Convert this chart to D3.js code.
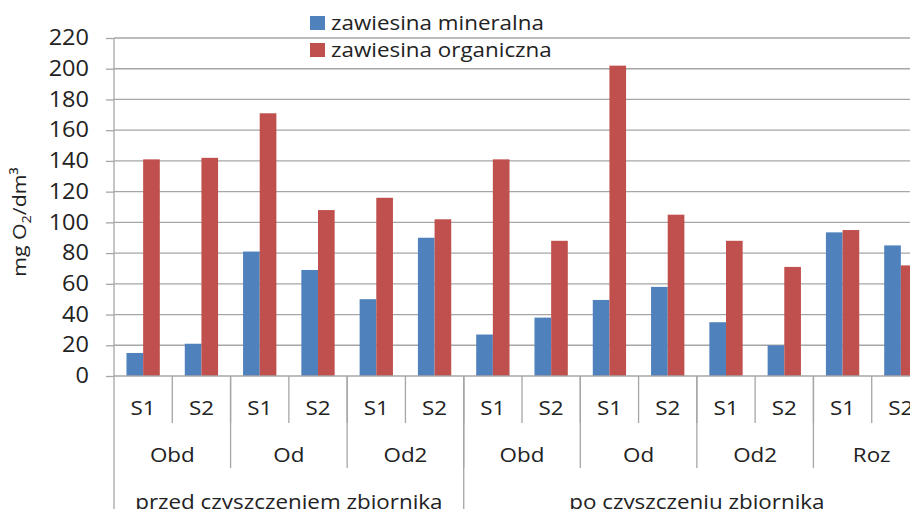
<!DOCTYPE html>
<html>
<head>
<meta charset="utf-8">
<script src="https://cdn.jsdelivr.net/npm/d3@7/dist/d3.min.js"></script>
<style>
  html, body { margin: 0; padding: 0; background: #fff; }
  svg { display: block; }
  text { font-family: "Open Sans", Lato, sans-serif; fill: #222; }
</style>
</head>
<body>
<svg id="chart" width="910" height="509"></svg>
<script>
// Sampling points, two per site, in order along the x axis
const samples = ["S1","S2","S1","S2","S1","S2","S1","S2","S1","S2","S1","S2","S1","S2"];
// Sites, each spanning two samples
const sites = ["Obd","Od","Od2","Obd","Od","Od2","Roz"];
// Campaign phases with the number of samples they span
const phases = ["przed czyszczeniem zbiornika", "po czyszczeniu zbiornika"];
const phaseSpans = [6, 8];

// Suspended solids, mg O2/dm3
const mineral  = [15, 21, 81, 69, 50, 90, 27, 38, 49.5, 58, 35, 20, 93.5, 85];
const organic  = [141, 142, 171, 108, 116, 102, 141, 88, 202, 105, 88, 71, 95, 72];

const seriesNames  = ["zawiesina mineralna", "zawiesina organiczna"];
const seriesColors = ["#4f81bd", "#c0504d"];
const yTicks = [0, 20, 40, 60, 80, 100, 120, 140, 160, 180, 200, 220];

const svg = d3.select("#chart");
const plotLeft = 114, plotRight = 930, plotTop = 38, plotBottom = 376;
const wide = 1.12; // glyphs are set slightly wide

// place a text at (px, py), widened along its baseline
function placeText(sel, px, py) {
  return sel.attr("x", 0).attr("y", 0)
    .attr("transform", `translate(${px},${py}) scale(${wide},1)`);
}

const x = d3.scaleBand().domain(d3.range(samples.length)).range([plotLeft, plotRight]).padding(0);
const inner = d3.scaleBand().domain([0, 1]).range([0, x.bandwidth()]).paddingInner(0).paddingOuter(0.75);
const y = d3.scaleLinear().domain([0, 220]).range([plotBottom, plotTop]);

const gridColor = "#a6a6a6";

// horizontal gridlines
svg.append("g").selectAll("line").data(yTicks.filter(d => d > 0)).join("line")
  .attr("x1", plotLeft).attr("x2", plotRight)
  .attr("y1", d => y(d)).attr("y2", d => y(d))
  .attr("stroke", gridColor).attr("stroke-width", 1.3);

// y axis
const yAxis = d3.axisLeft(y).tickValues(yTicks).tickSize(8).tickPadding(17);
const gy = svg.append("g").attr("transform", `translate(${plotLeft},0)`).call(yAxis);
gy.select(".domain").remove();
gy.selectAll(".tick line").attr("stroke", gridColor).attr("stroke-width", 1.3);
gy.selectAll(".tick text").attr("font-size", 21).attr("fill", "#222")
  .style("font-family", "'Open Sans', sans-serif")
  .each(function () { placeText(d3.select(this), -25, 0); });

// bars
const rows = samples.map((s, i) => ({ i, vals: [mineral[i], organic[i]] }));
svg.append("g").selectAll("g").data(rows).join("g")
  .attr("transform", d => `translate(${x(d.i)},0)`)
  .selectAll("rect").data(d => d.vals.map((v, k) => ({ v, k }))).join("rect")
  .attr("x", d => inner(d.k))
  .attr("width", inner.bandwidth())
  .attr("y", d => y(d.v))
  .attr("height", d => y(0) - y(d.v))
  .attr("fill", d => seriesColors[d.k]);

// axis lines
svg.append("line").attr("x1", plotLeft).attr("x2", plotRight).attr("y1", plotBottom).attr("y2", plotBottom)
  .attr("stroke", gridColor).attr("stroke-width", 1.3);
svg.append("line").attr("x1", plotLeft).attr("x2", plotLeft).attr("y1", plotTop).attr("y2", 509)
  .attr("stroke", gridColor).attr("stroke-width", 1.3);

// multi-level category axis
const lvl1Bottom = 423, lvl2Bottom = 468, lvl3Bottom = 509;
const sep = svg.append("g").attr("stroke", gridColor).attr("stroke-width", 1.3);
// sample separators
d3.range(1, samples.length).forEach(i => {
  sep.append("line").attr("x1", x(i)).attr("x2", x(i)).attr("y1", plotBottom).attr("y2", lvl1Bottom);
});
samples.forEach((s, i) => {
  placeText(svg.append("text"), x(i) + x.bandwidth() / 2, 408)
    .attr("dy", "0.35em").attr("text-anchor", "middle").attr("font-size", 20).text(s);
});

// site separators and labels
sites.forEach((s, j) => {
  const x0 = x(j * 2);
  if (j > 0) sep.append("line").attr("x1", x0).attr("x2", x0).attr("y1", plotBottom).attr("y2", lvl2Bottom);
  placeText(svg.append("text"), x0 + x.bandwidth(), 455)
    .attr("dy", "0.35em").attr("text-anchor", "middle").attr("font-size", 20).text(s);
});

// phase separators and labels
let start = 0;
phases.forEach((p, j) => {
  const x0 = x(start);
  if (j > 0) sep.append("line").attr("x1", x0).attr("x2", x0).attr("y1", plotBottom).attr("y2", lvl3Bottom);
  const xm = x0 + phaseSpans[j] * x.bandwidth() / 2;
  placeText(svg.append("text"), xm, 502)
    .attr("dy", "0.35em").attr("text-anchor", "middle").attr("font-size", 20).text(p);
  start += phaseSpans[j];
});

// y axis title
const yt = svg.append("text")
  .attr("transform", `translate(26,222) rotate(-90) scale(${wide},1)`)
  .attr("text-anchor", "middle").attr("font-size", 19);
yt.append("tspan").text("mg O");
yt.append("tspan").attr("font-size", 13).attr("dy", 5).text("2");
yt.append("tspan").attr("dy", -5).text("/dm³");

// legend
const lg = svg.append("g").attr("transform", "translate(310,16)");
seriesNames.forEach((n, k) => {
  const g = lg.append("g").attr("transform", `translate(0,${k * 27})`);
  g.append("rect").attr("width", 15).attr("height", 14).attr("fill", seriesColors[k]);
  placeText(g.append("text"), 21, 7).attr("dy", "0.35em").attr("font-size", 20).text(n);
});
</script>
</body>
</html>
